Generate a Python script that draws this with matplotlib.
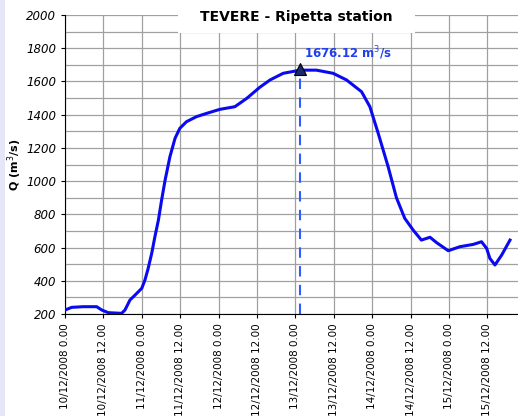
"""Tevere river discharge at Ripetta station, December 2008 flood."""

import matplotlib
matplotlib.use("Agg")
import matplotlib.pyplot as plt
import matplotlib.patches as mpatches
import numpy as np

# hours since 10/12/2008 00:00 and discharge Q (m3/s)
HOURS = [0, 2.1, 5.7, 9.9, 11.5, 13.5, 17.7, 18.75, 20.3, 21.9, 24, 25, 26, 27.1,
         28.1, 29.2, 30.2, 31.3, 32.8, 34.4, 35.9, 38, 41.1, 44.3, 48.4, 53.1,
         56.8, 60.9, 64.1, 68.2, 73.5, 78.6, 83.8, 88, 92.7, 95.3, 97.9, 101,
         103.6, 106.2, 108.8, 111.4, 114.1, 116.2, 119.8, 123.4, 127.6, 130.2,
         131.8, 132.8, 134.4, 136.5, 139.1]
Q = [224, 240, 244, 244, 224, 208, 204, 224, 284, 314, 355, 405, 475, 565,
     665, 766, 886, 1007, 1147, 1258, 1318, 1358, 1388, 1408, 1432, 1448,
     1498, 1565, 1609, 1649, 1668, 1668, 1649, 1609, 1538, 1448, 1288, 1087,
     900, 776, 706, 645, 662, 629, 581, 605, 619, 635, 595, 535, 495, 555, 645]

PEAK_HOUR = 73.5
PEAK_Q = 1676.12

TICK_HOURS = list(range(0, 144, 12))
TICK_LABELS = ["10/12/2008 0.00", "10/12/2008 12.00", "11/12/2008 0.00",
               "11/12/2008 12.00", "12/12/2008 0.00", "12/12/2008 12.00",
               "13/12/2008 0.00", "13/12/2008 12.00", "14/12/2008 0.00",
               "14/12/2008 12.00", "15/12/2008 0.00", "15/12/2008 12.00"]

W, H = 518, 416
fig = plt.figure(figsize=(W / 100, H / 100), dpi=100)

# faint strip at left edge
fig.patches.append(mpatches.Rectangle((0, 0), 5 / W, 1, transform=fig.transFigure,
                                      facecolor="#e6e6f8", edgecolor="none", zorder=-1))

ax = fig.add_axes([65 / W, 1 - 314 / H, 453 / W, 299 / H])

ax.plot(HOURS, Q, color="#0a0af0", linewidth=2.2, solid_joinstyle="round", zorder=3)

# peak marker + dashed drop line
ax.plot([PEAK_HOUR, PEAK_HOUR], [200, PEAK_Q], color="#2f5cff",
        linestyle=(0, (5, 4)), linewidth=1.5, zorder=2)
ax.plot(PEAK_HOUR, PEAK_Q, marker="^", markersize=8, color="#1a2a6c",
        markeredgecolor="black", markeredgewidth=0.8, zorder=4)
ax.text(PEAK_HOUR + 1.3, PEAK_Q + 40, f"{PEAK_Q:.2f} m$^3$/s", color="#2040ee",
        fontsize=8.5, fontweight="bold", ha="left", va="bottom")

ax.set_xlim(0, 141.6)
ax.set_ylim(200, 2000)
ax.set_yticks(np.arange(200, 2001, 200))
ax.set_yticks(np.arange(300, 2000, 200), minor=True)
ax.set_xticks(TICK_HOURS)
ax.set_xticklabels(TICK_LABELS, rotation=90, fontsize=7.5)
for lbl in ax.get_yticklabels():
    lbl.set_fontstyle("italic")
    lbl.set_fontsize(8.5)
ax.tick_params(axis="y", which="minor", length=0)
ax.tick_params(axis="both", which="major", length=3, width=0.8)

ax.grid(True, which="both", color="#a0a0a0", linewidth=0.9)
ax.set_axisbelow(True)
for side in ("top", "right"):
    ax.spines[side].set_visible(False)
ax.spines["left"].set_color("black")
ax.spines["bottom"].set_color("black")

ax.set_ylabel("Q (m$^3$/s)", fontsize=8, fontweight="bold", va="center")
ax.yaxis.set_label_coords(-50 / 453, 0.5)

# white title box covering the top of the grid
fig.patches.append(mpatches.Rectangle((178 / W, 1 - 33 / H), 237 / W, 33 / H,
                                      transform=fig.transFigure, facecolor="white",
                                      edgecolor="none", zorder=5))
fig.text(296 / W, 1 - 17 / H, "TEVERE - Ripetta station", fontsize=10,
         fontweight="bold", ha="center", va="center", zorder=6)

fig.savefig("out.png", dpi=100)
